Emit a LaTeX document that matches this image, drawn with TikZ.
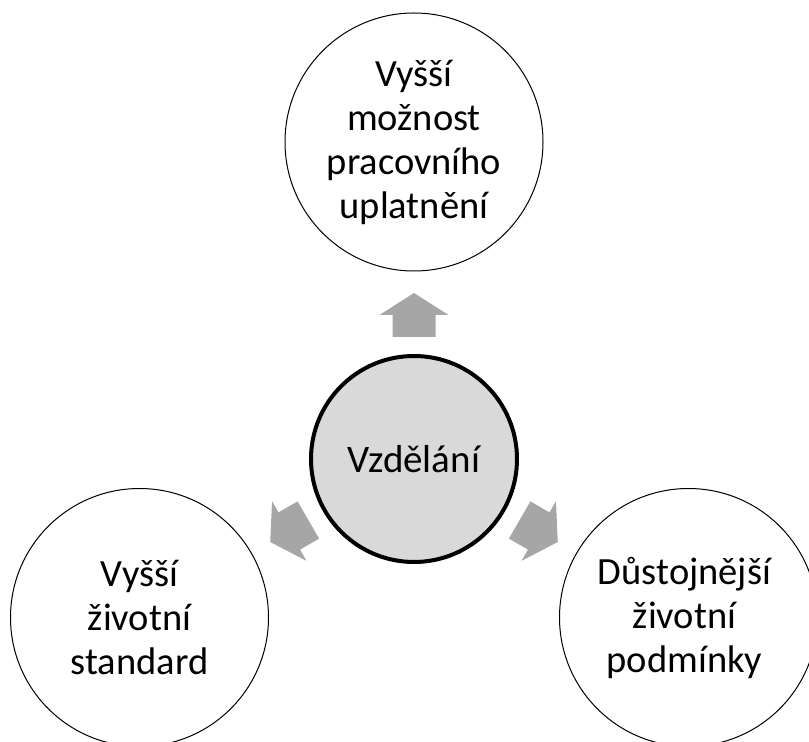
\documentclass[tikz,border=0pt]{standalone}
\usepackage{fontspec}
\setmainfont{Carlito}
\definecolor{centerfill}{HTML}{D9D9D9}
\definecolor{arrowgray}{HTML}{A6A6A6}
\tikzset{
  satellite/.style={circle, draw=black, line width=1pt, fill=white, minimum size=258pt, inner sep=0pt,
    align=center, font=\fontsize{38.5}{44}\selectfont},
  hub/.style={circle, draw=black, line width=4pt, fill=centerfill, minimum size=206pt, inner sep=0pt,
    align=center, font=\fontsize{39}{47}\selectfont},
  blockarrow/.style={fill=arrowgray, draw=none}
}
\newcommand{\blockarr}[2]{%
  \begin{scope}[shift={(#1)}, rotate=#2]
    \fill[blockarrow] (122,-21.5) -- (144,-21.5) -- (144,-34.5) -- (166,0) -- (144,34.5) -- (144,21.5) -- (122,21.5) -- cycle;
  \end{scope}}
\begin{document}
\begin{tikzpicture}[x=1pt,y=1pt]
\useasboundingbox (0,0) rectangle (809,742);
\node[hub] (c) at (414,283) {Vzdělání};
\node[satellite] (top) at (414,600) {Vyšší\\možnost\\pracovního\\uplatnění};
\node[satellite] (left) at (139.5,124.5) {Vyšší\\životní\\standard};
\node[satellite] (right) at (688.5,124.5) {\hspace*{-8pt}Důstojnější\\\hspace*{-8pt}životní\\\hspace*{-8pt}podmínky};
\blockarr{c.center}{90}
\blockarr{c.center}{210}
\blockarr{c.center}{330}
\end{tikzpicture}
\end{document}
